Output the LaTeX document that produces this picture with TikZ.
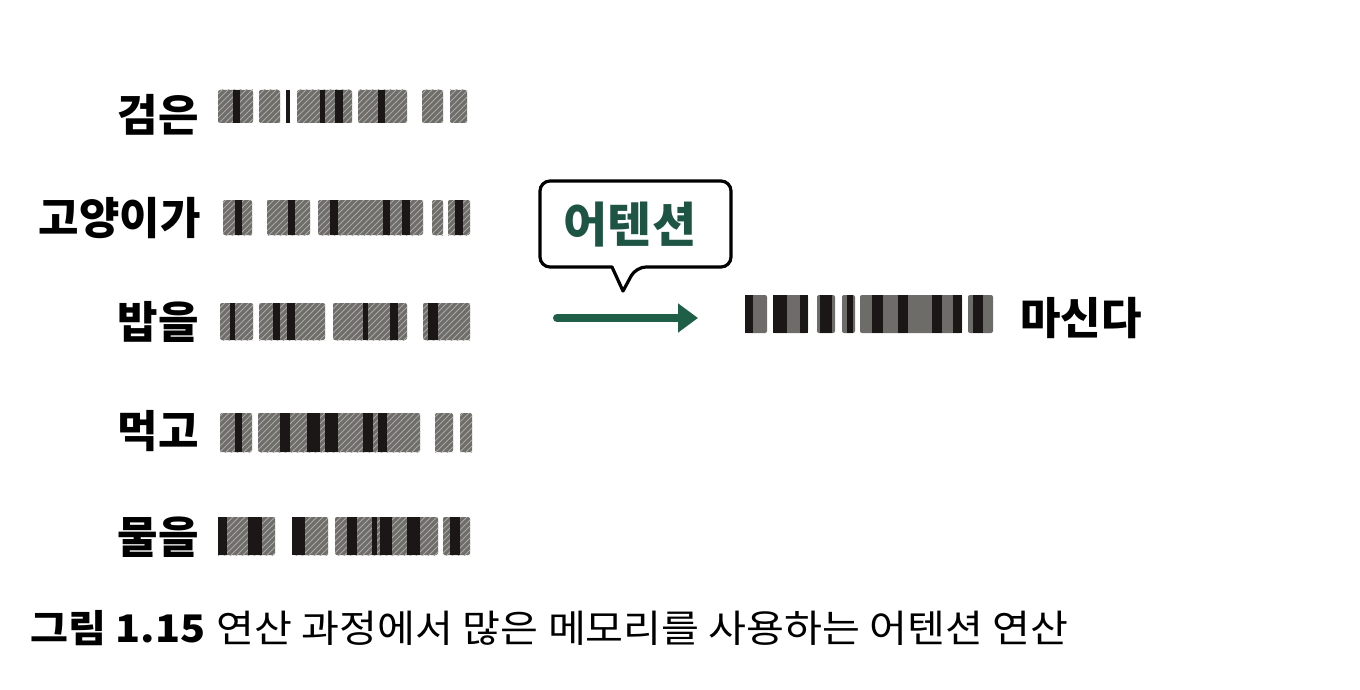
\documentclass[tikz,border=0pt]{standalone}
\usepackage{fontspec}
\newfontfamily\kr{Noto Sans CJK KR}
\usetikzlibrary{arrows.meta,patterns}
\definecolor{dgreen}{HTML}{1D5443}
\definecolor{agreen}{HTML}{1F5E47}
\definecolor{bargray}{HTML}{6F6D69}
\definecolor{hatchc}{HTML}{A8A8A4}
\definecolor{stripec}{HTML}{1A1716}
\definecolor{outgray}{HTML}{6E6C68}
\tikzset{
  word/.style={inner sep=0pt, font=\kr\bfseries\fontsize{22}{26}\selectfont, text=black},
  blockst/.style={fill=bargray, rounded corners=1pt},
  hatchst/.style={pattern=north east lines, pattern color=hatchc},
  stripest/.style={fill=stripec},
  outblock/.style={fill=outgray, rounded corners=1pt},
  callout/.style={draw=black, line width=1.6pt, fill=white, line join=round},
  attnarrow/.style={draw=agreen, line width=4pt, line cap=round, -{Triangle[length=10pt,width=14pt]}},
}
\newcommand\mkbar[4]{%
  \foreach \a/\b in {#3}{\fill[blockst] (\a,#1) rectangle (\b,#2);
    \fill[hatchst] (\a,#1) rectangle (\b,#2);}
  \foreach \a/\b in {#4}{\fill[stripest] (\a,#1) rectangle (\b,#2);}
}
\newcommand\mkoutbar[4]{%
  \foreach \a/\b in {#3}{\fill[outblock] (\a,#1) rectangle (\b,#2);}
  \foreach \a/\b in {#4}{\fill[stripest] (\a,#1) rectangle (\b,#2);}
}
\begin{document}
\begin{tikzpicture}[x=0.5pt,y=-0.5pt]
\useasboundingbox (0,0) rectangle (1360,690);
% labels
\node[word, anchor=east] (w1) at (199,115) {검은};
\node[word, anchor=east] (w2) at (201,218) {고양이가};
\node[word, anchor=east] (w3) at (199,322) {밥을};
\node[word, anchor=east] (w4) at (199,431) {먹고};
\node[word, anchor=east] (w5) at (199,537) {물을};
% bars
\mkbar{90}{123}{218/253,259/280,297/352,358/407,422/443,450/467}{233/240,286/290,320/325,335/343,378/385}
\mkbar{200}{235}{223/252,267/310,318/423,432/443,448/470}{235/242,288/295,330/338,383/390,402/410,455/463}
\mkbar{303}{340}{220/253,259/325,333/407,423/470}{230/235,273/280,287/295,363/368,390/398,428/438}
\mkbar{413}{452}{220/252,258/420,435/453,460/472}{235/242,280/290,307/320,325/338,363/373,378/387}
\mkbar{517}{555}{218/275,292/328,335/438,443/470}{218/227,248/262,292/305,347/357,372/377,380/392,407/420,450/460}
% output bar
\mkoutbar{295}{333}{745/767,773/808,817/835,842/855,860/962,968/993}{745/753,773/787,800/808,820/832,847/853,872/883,898/908,932/942,953/962,973/983}
\node[word, anchor=west] (out) at (1020,318) {마신다};
% callout
\draw[callout, rounded corners=5pt] (612,267) -- (540,267) -- (540,181) -- (731,181) -- (731,267) -- (636,267) [sharp corners]-- (623,291) -- cycle;
\node[word, text=dgreen, font=\kr\bfseries\fontsize{24}{28}\selectfont] (attn) at (630,225) {어텐션};
% arrow
\coordinate (arrS) at (557,318);
\coordinate (arrE) at (698,318);
\draw[attnarrow] (arrS) -- (arrE);
% caption
\node[inner sep=0pt, anchor=west, font=\kr\fontsize{19}{23}\selectfont] (cap) at (30,628) {\scalebox{1.085}[1]{{\bfseries 그림 1.15}\hspace{1pt} 연산 과정에서 많은 메모리를 사용하는 어텐션 연산}};
\end{tikzpicture}
\end{document}
